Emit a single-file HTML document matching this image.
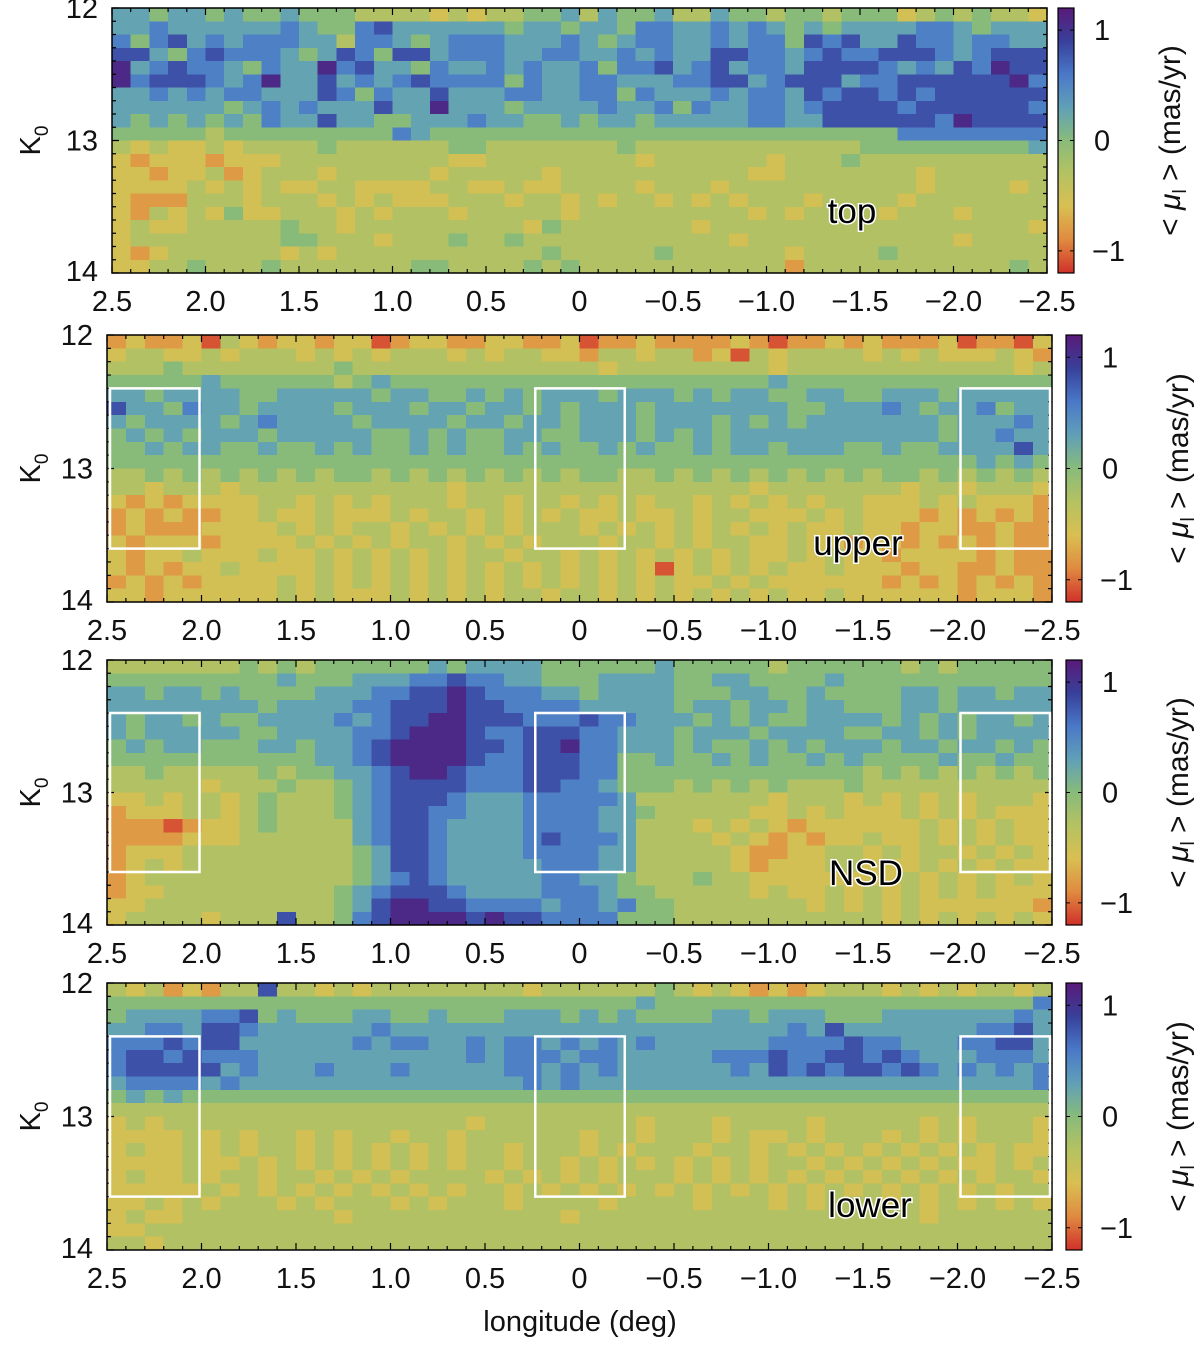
<!DOCTYPE html>
<html><head><meta charset="utf-8"><style>
html,body{margin:0;padding:0;background:#fff;}
svg{display:block;font-family:"Liberation Sans","DejaVu Sans",sans-serif;}
</style></head><body>
<svg id="fig" width="1200" height="1349" viewBox="0 0 1200 1349" xmlns="http://www.w3.org/2000/svg">
<defs>
<linearGradient id="cbg" x1="0" y1="1" x2="0" y2="0">
<stop offset="0" stop-color="#d0302a"/><stop offset="0.125" stop-color="#e08a40"/>
<stop offset="0.25" stop-color="#d9bf52"/><stop offset="0.375" stop-color="#b5c262"/>
<stop offset="0.5" stop-color="#88bb7a"/><stop offset="0.625" stop-color="#60a0b8"/>
<stop offset="0.75" stop-color="#4a78c8"/><stop offset="0.875" stop-color="#38409a"/>
<stop offset="1" stop-color="#5a1a78"/>
</linearGradient>
</defs>
</svg>
<script>
// Digit code per cell: value = (digit - 5) * 0.27  (mas/yr), rows from K0=12 (top) to 14
const panelNames = ["top","upper","NSD","lower"];
const xTicks = [2.5,2.0,1.5,1.0,0.5,0,-0.5,-1.0,-1.5,-2.0,-2.5];
const xTickLabels = ["2.5","2.0","1.5","1.0","0.5","0","\u22120.5","\u22121.0","\u22121.5","\u22122.0","\u22122.5"];
const yTicks = [12,13,14];
const cbTicks = [1,0,-1];
const cbTickLabels = ["1","0","\u22121"];
const boxLon = [[2.5,2.0],[0.25,-0.25],[-2.0,-2.5]];
const boxK = [12.4,13.6];
const gridTop = [
"6656656556555444434344556465564465545545553454544 3",
"6676666667655786666665665665776676765656666776566 6",
"7578676777664776567776667656776676775878668776776 6",
"8865787776568758867776677667676688776787788876788 8",
"9678776576697866576676766757786786776888876768798 8",
"9788876796686767877775766776667788678886778888889 7",
"6676767766687576686667766775766676776878878788888 8",
"6666665676766686696665666676675766776788887888888 7",
"6565656576686655666766556566566666776688888879888 8",
"5555545555555557655555555555555555555555557777777 7",
"4343343444454444445544444445444444444444555555555 6",
"3233323334444444443344444444344444434445444444444 4",
"3323342344434444434444434444444444334444444344444 4",
"3333434343344333344334334444344434444444444344443 4",
"3222444344434343334443443434434343444344443444444 4",
"3243435334443434443444443444444444343444434443444 4",
"3433444445443444444444354444444344444444444444444 3",
"3444444445544434445445444444444443444444444443444 4",
"3234444443434444444444454444454444443444454444444 4",
"3344544454444444554444545444444444442444444444445 4"];
const gridUpper = [
"2322314323323312332233223122322223212232322231221 3",
"3443343444343434443434433244344231434444343433343 2",
"4445444444445444444444444434444444434444444444443 4",
"5555565555554565555555555555555555565555555555555 5",
"6656666556666656655656566656665656655665566656666 6",
"8665766566665666566566565666566666665566676566756 6",
"6566665676666566665665665666566656565666666656667 6",
"5656566656666655656556655666565656666666666656676 6",
"5565665565565655656556565565655656656665565566668 6",
"5555555555555555555555555555555555555555555555656 5",
"4454545454545545454545454554454545454545455454545 4",
"4434443444444444443444444444444444344444443443444 3",
"3232333344343434443443443434344343434344333434333 2",
"2323223343343334344343434334334344333434333232323 2",
"2322233334343443434343444343434343434334332332232 2",
"3233323333434343443434344434434344334332332323232 2",
"3233433343343434343443443434343434334343323333232 2",
"3232334333343434343434343434313434343343332332232 2",
"2323233334343434343434343434343343433333323232323 2",
"3323333334343334343434434434343434343343333332333 2"];
const gridNSD = [
"4444444545455555565666655555565555545555554545555 5",
"5555555556555666778776655566665566555565555555555 5",
"6656656555566677889877766566665556655655556656656 6",
"6666666656666778889887777666665665665665556656666 6",
"6566565566667678899888777877666565655666656565665 6",
"6566666556666778999877888776665666566665566565666 6",
"5656655566566789999887889776665655656566656656656 5",
"5555555555566789999877888775565565655656555565565 5",
"4454444454556678998777888775555555555555454545454 5",
"4444434445445678888777887765554545454445444444444 4",
"3343443454445678887666777776444444434443434343444 3",
"2333443454445678877666777766544444334343334343433 3",
"2221233454444678876666777766444343432333333434343 3",
"2222333444444678876666787776444434323233433434343 3",
"2333444444444568876666777766444443223344343443434 3",
"2343444444444568876666677766444443233344333434343 3",
"2344444444444567876666677665444544333333334343434 3",
"2334444444445678887666677765544444343343434343433 3",
"3344444444445689988777767767554444444343434333333 2",
"3444434448445789999898877775554444444444434343434 3"];
const gridLower = [
"4342324484434344444444344444454343232344434343443 4",
"5555555555555555555555555555655555555555555555555 7",
"5666677856555665565556665656555566566655566666667 6",
"6677688766666676666666666666666666667686666666778 6",
"7778788666666767766767767676766666677778776667788 6",
"7887877766666666666767776776666677787788787666777 6",
"7888886766676667666667767676666667687878878767676 7",
"6777767666666666666666767666666666666666666666666 7",
"5656555555555555555555555555555555555555555555555 5",
"4444444444444444444444444444444444444444444444444 4",
"3434444444444444444344444444344434444344444343444 3",
"3333434344343443443444444344344434334344434343444 3",
"3433434344343434343443444343444344343434343434343 3",
"3333433434343434343443443434343434344343434343343 4",
"3433434434434343444434343434443434343434343434344 3",
"3333343434343434343443434343434343434343434343434 4",
"3343434443434443434443444434444344434344434343434 3",
"3433444444443444444444443444444444444444444344444 4",
"3344444444444444444444444444444444444444444444444 4",
"4434444444444444444444444444444444444444444444444 4"];
const grids = [gridTop, gridUpper, gridNSD, gridLower];

const layout = [
 {x0:112,x1:1047,y0:8,y1:273,cbx:1058,hasBoxes:false,label:[852,223]},
 {x0:107,x1:1052,y0:335,y1:602,cbx:1066,hasBoxes:true,label:[858,555]},
 {x0:107,x1:1052,y0:660,y1:925,cbx:1066,hasBoxes:true,label:[866,885]},
 {x0:107,x1:1052,y0:983,y1:1250,cbx:1066,hasBoxes:true,label:[870,1217]}
];
const stops = [[-1.2,[208,48,42]],[-0.9,[224,138,64]],[-0.6,[217,191,82]],[-0.3,[181,194,98]],[0,[136,187,122]],[0.3,[96,160,184]],[0.6,[74,120,200]],[0.9,[56,64,154]],[1.2,[90,26,120]]];
function color(v){
  v=Math.max(-1.2,Math.min(1.2,v));
  for(let i=0;i<stops.length-1;i++){
    const a=stops[i],b=stops[i+1];
    if(v<=b[0]){const t=(v-a[0])/(b[0]-a[0]);
      const c=a[1].map((x,k)=>Math.round(x+(b[1][k]-x)*t));
      return `rgb(${c[0]},${c[1]},${c[2]})`;}
  }
  return "rgb(90,26,120)";
}
const NS="http://www.w3.org/2000/svg";
const svg=document.getElementById('fig');
function mk(tag,attrs,parent){const e=document.createElementNS(NS,tag);for(const k in attrs)e.setAttribute(k,attrs[k]);(parent||svg).appendChild(e);return e;}

layout.forEach((L,p)=>{
  const g=mk('g',{});
  
  
  const xS=l=>L.x0+(2.5-l)/5*(L.x1-L.x0);
  const yS=k=>L.y0+(k-12)/2*(L.y1-L.y0);
  const rows=grids[p].map(r=>r.replace(/\s/g,''));
  const nR=rows.length;
  const cells=mk('g',{'shape-rendering':'crispEdges'},g);
  
  
  rows.forEach((row,r)=>{
    const nC=row.length;
    for(let c=0;c<nC;c++){
      const v=(parseInt(row[c])-5)*0.27;
      const lA=2.5-c*5/nC, lB=2.5-(c+1)*5/nC;
      const kA=12+r*2/nR, kB=12+(r+1)*2/nR;
      const x=xS(lA),y=yS(kA);
      const rc=mk('rect',{x:x.toFixed(2),y:y.toFixed(2),width:(xS(lB)-x+0.6).toFixed(2),height:(yS(kB)-y+0.6).toFixed(2),fill:color(v)},cells);
      
      
    }
  });
  const fr=mk('rect',{x:L.x0,y:L.y0,width:L.x1-L.x0,height:L.y1-L.y0,fill:'none',stroke:'#000','stroke-width':1.5},g);
  
  
  let d='';
  for(let i=0;i<=50;i++){const x=xS(2.5-i*0.1);const len=(i%5===0)?7:4;d+=`M${x},${L.y1}v${-len}M${x},${L.y0}v${len}`;}
  for(let i=0;i<=20;i++){const y=yS(12+i*0.1);const len=(i%10===0)?7:4;d+=`M${L.x0},${y}h${len}M${L.x1},${y}h${-len}`;}
  const tk=mk('path',{d:d,stroke:'#000','stroke-width':1.2,fill:'none'},g);
  
  
  xTicks.forEach((l,i)=>{
    const t=mk('text',{x:xS(l),y:L.y1+38,'font-size':29,'text-anchor':'middle',fill:'#111'},g);
    t.textContent=xTickLabels[i];
    
    
  });
  yTicks.forEach(k=>{
    let yy=yS(k)+10; if(k===12) yy=L.y0+10; if(k===14) yy=L.y1+8;
    const t=mk('text',{x:L.x0-14,y:yy,'font-size':29,'text-anchor':'end',fill:'#111'},g);
    t.textContent=String(k);
    
    
  });
  const yc=(L.y0+L.y1)/2;
  const yt=mk('text',{transform:`translate(40,${yc}) rotate(-90)`,'font-size':29,'text-anchor':'middle',fill:'#111'},g);
  yt.innerHTML='K<tspan font-size="19" dy="8">0</tspan>';
  
  
  if(L.hasBoxes){
    boxLon.forEach(b=>{
      const bx=mk('rect',{x:xS(b[0])+3,y:yS(boxK[0]),width:xS(b[1])-xS(b[0])-5,height:yS(boxK[1])-yS(boxK[0]),fill:'none',stroke:'#fff','stroke-width':2.5},g);
      
      
    });
  }
  const pl=mk('text',{x:L.label[0],y:L.label[1],'font-size':35,'text-anchor':'middle',fill:'#000',stroke:'#fff','stroke-width':3,'paint-order':'stroke'},g);
  pl.textContent=panelNames[p];
  
  
  const cb=mk('rect',{x:L.cbx,y:L.y0,width:16,height:L.y1-L.y0,fill:'url(#cbg)',stroke:'#000','stroke-width':1.2},g);
  
  
  const cS=v=>L.y1-(v+1.2)/2.4*(L.y1-L.y0);
  cbTicks.forEach((v,i)=>{
    const ln=mk('path',{d:`M${L.cbx+16},${cS(v)}h-4M${L.cbx},${cS(v)}h4`,stroke:'#000','stroke-width':1},g);
    
    
    const t=mk('text',{x:L.cbx+(v<0?34:36),y:cS(v)+10,'font-size':29,fill:'#111'},g);
    t.textContent=cbTickLabels[i];
    
    
  });
  const ct=mk('text',{transform:`translate(${L.cbx+122},${yc}) rotate(-90)`,'font-size':30,'text-anchor':'middle',fill:'#111'},g);
  ct.setAttribute('xml:space','preserve');
  ct.innerHTML='&lt;  <tspan font-style="italic">μ</tspan><tspan font-size="19" dy="6">l</tspan><tspan dy="-6">  &gt;    (mas/yr)</tspan>';
  
  
});
const xt=mk('text',{x:580,y:1331,'font-size':29,'text-anchor':'middle',fill:'#111'});
xt.setAttribute('xml:space','preserve');
xt.textContent='longitude  (deg)';


</script>
</body></html>
